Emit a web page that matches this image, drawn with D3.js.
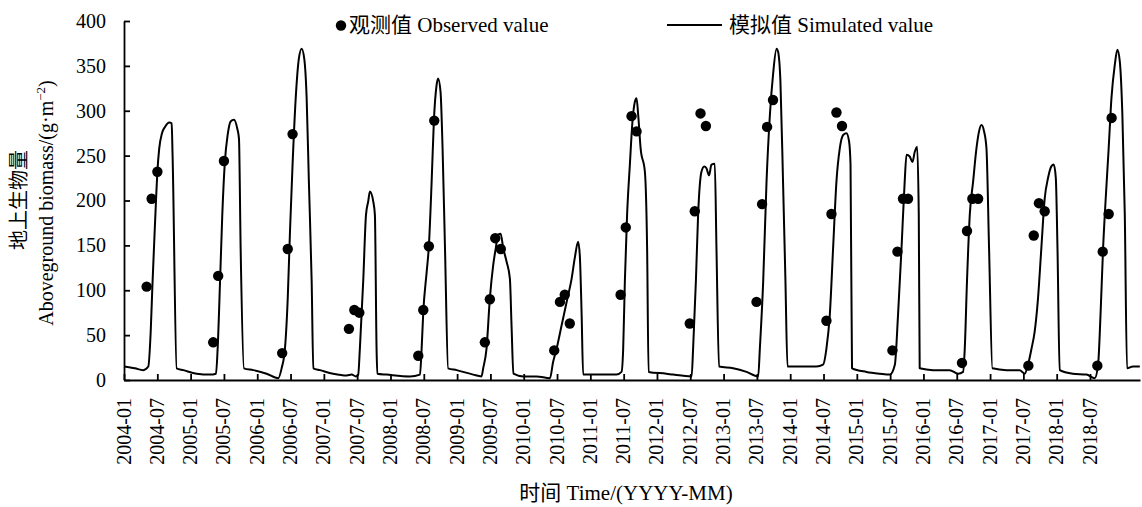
<!DOCTYPE html>
<html>
<head>
<meta charset="utf-8">
<script src="https://cdn.jsdelivr.net/npm/d3@7"></script>
<style>
  html, body { margin:0; padding:0; background:#fff; }
  svg { display:block; }
  text { font-family: "Liberation Serif", "Times New Roman", "Noto Sans CJK SC", serif; fill:#000; }
</style>
</head>
<body>
<svg id="chart" width="1142" height="507"></svg>
<script>
// ===== data =====
const simDates = [
  "2004-01-01","2004-02-29","2004-04-14","2004-05-11","2004-05-24","2004-06-02","2004-06-12","2004-06-22","2004-06-29","2004-07-09","2004-07-24","2004-08-09","2004-09-01","2004-09-14","2004-09-19","2004-10-11","2004-11-16",
  "2005-01-27","2005-04-09","2005-05-11","2005-05-20","2005-06-02","2005-06-14","2005-06-28","2005-07-13","2005-07-29","2005-08-16","2005-09-03","2005-09-12","2005-09-21","2005-10-09","2005-11-28",
  "2006-02-08","2006-04-12","2006-04-30","2006-05-18","2006-06-02","2006-06-14","2006-06-28","2006-07-15","2006-08-01","2006-08-16","2006-08-30","2006-09-12","2006-09-24","2006-10-09","2006-10-18","2006-11-23",
  "2007-02-02","2007-04-16","2007-05-13","2007-06-05","2007-06-17","2007-06-26","2007-07-14","2007-07-29","2007-08-10","2007-08-19","2007-09-06","2007-09-15","2007-09-24","2007-09-28","2007-11-17",
  "2008-03-22","2008-05-15","2008-05-24","2008-06-02","2008-06-20","2008-07-02","2008-07-17","2008-07-29","2008-08-13","2008-08-21","2008-09-03","2008-09-14","2008-09-27","2008-10-14","2008-11-29",
  "2009-02-26","2009-04-12","2009-04-21","2009-05-09","2009-05-27","2009-06-14","2009-06-28","2009-07-11","2009-07-24","2009-08-07","2009-08-25","2009-09-12","2009-09-21","2009-10-01","2009-11-23",
  "2010-02-03","2010-04-16","2010-05-03","2010-05-22","2010-06-18","2010-07-15","2010-08-11","2010-08-28","2010-09-15","2010-09-24","2010-10-04","2010-10-12",
  "2011-01-10","2011-04-10","2011-05-07","2011-05-16","2011-05-25","2011-06-06","2011-06-21","2011-07-05","2011-07-18","2011-07-27","2011-08-05","2011-08-18","2011-09-10","2011-09-22","2011-09-30",
  "2012-01-04","2012-02-09","2012-05-19","2012-05-27","2012-06-11","2012-06-23","2012-07-11","2012-07-26","2012-08-07","2012-08-21","2012-09-03","2012-09-21","2012-09-30","2012-10-14","2012-12-29",
  "2013-03-11","2013-05-13","2013-05-22","2013-06-09","2013-06-27","2013-07-15","2013-08-01","2013-08-20","2013-08-28","2013-09-10","2013-09-24","2013-10-07","2013-10-18","2013-12-23",
  "2014-03-23","2014-04-28","2014-05-16","2014-06-03","2014-06-21","2014-07-09","2014-07-27","2014-08-14","2014-09-01","2014-09-15","2014-09-23","2014-10-01","2014-12-18",
  "2015-02-28","2015-04-23","2015-05-20","2015-06-06","2015-06-25","2015-07-12","2015-07-22","2015-08-08","2015-08-23","2015-09-04","2015-09-17","2015-09-26","2015-10-01","2015-12-12",
  "2016-03-11","2016-04-25","2016-05-22","2016-05-31","2016-06-12","2016-06-27","2016-07-15","2016-08-02","2016-08-16","2016-08-29","2016-09-12","2016-09-25","2016-10-09","2016-10-27",
  "2017-01-11","2017-03-23","2017-04-19","2017-05-07","2017-05-26","2017-06-12","2017-06-30","2017-07-18","2017-08-05","2017-08-23","2017-09-10","2017-09-23","2017-10-04","2017-10-13","2017-10-25",
  "2018-01-04","2018-03-18","2018-05-02","2018-05-20","2018-06-02","2018-06-16","2018-06-30","2018-07-16","2018-07-31","2018-08-18","2018-09-01","2018-09-14","2018-09-28","2018-10-11","2018-10-23","2018-11-24","2018-12-31"
];
const simValues = [
  15,13,11,15,54,104,154,202,232,258,275,282,287,286,250,13,11,
  7,6,7,35,110,184,243,273,288,290,280,269,147,13,11,
  7,2,13,35,91,165,240,314,358,369,358,314,221,110,13,11,
  7,5,6,4,6,35,110,184,199,210,199,184,35,7,6,
  4,6,35,76,120,149,221,288,329,336,321,258,147,13,11,
  6,4,13,35,91,128,147,162,163,147,132,113,60,7,4,
  4,2,20,35,61,87,113,136,154,139,72,6,
  6,6,9,35,110,184,240,288,310,314,295,258,232,147,9,
  7,6,4,35,110,184,232,238,236,228,240,241,147,15,13,
  9,4,35,110,221,295,340,369,366,332,221,110,15,15,
  15,17,35,72,147,221,258,273,275,266,240,13,9,
  7,6,17,72,147,221,251,249,243,254,260,184,13,11,
  11,7,9,35,110,184,221,258,277,284,277,258,147,13,
  11,11,7,17,35,54,91,147,202,225,238,240,225,147,11,
  7,6,2,17,72,147,202,258,314,351,368,355,295,184,13,15,15
];

const obsDates = [
  "2004-05-02","2004-05-29","2004-06-29",
  "2005-04-26","2005-05-23","2005-06-23",
  "2006-05-03","2006-06-02","2006-06-28",
  "2007-04-28","2007-05-27","2007-06-23",
  "2008-05-06","2008-06-02","2008-07-02","2008-07-31",
  "2009-04-30","2009-05-27","2009-06-25","2009-07-25",
  "2010-05-09","2010-06-09","2010-07-05","2010-08-01",
  "2011-05-02","2011-05-30","2011-06-30","2011-07-27",
  "2012-05-09","2012-06-05","2012-07-06","2012-08-04",
  "2013-05-04","2013-06-03","2013-06-30","2013-08-01",
  "2014-05-16","2014-06-12","2014-07-09","2014-08-08",
  "2015-05-07","2015-06-03","2015-07-03","2015-07-30",
  "2016-05-16","2016-06-12","2016-07-11","2016-08-11",
  "2017-05-09","2017-06-07","2017-07-05","2017-08-05",
  "2018-05-16","2018-06-14","2018-07-16","2018-08-01"
];
const obsValues = [
  104,202,232,
  42,116,244,
  30,146,274,
  57,78,75,
  27,78,149,289,
  42,90,158,146,
  33,87,95,63,
  95,170,294,277,
  63,188,297,283,
  87,196,282,312,
  66,185,298,283,
  33,143,202,202,
  19,166,202,202,
  16,161,197,188,
  16,143,185,292
];

// category labels of the x axis (every 6 months)
const xLabels = [
  "2004-01","2004-07","2005-01","2005-07","2006-01","2006-07","2007-01","2007-07",
  "2008-01","2008-07","2009-01","2009-07","2010-01","2010-07","2011-01","2011-07",
  "2012-01","2012-07","2013-01","2013-07","2014-01","2014-07","2015-01","2015-07",
  "2016-01","2016-07","2017-01","2017-07","2018-01","2018-07"
];
const yTicks = [0,50,100,150,200,250,300,350,400];
const xStart = "2004-01-01", xEnd = "2019-01-01";

const legendObs = "观测值 Observed value";
const legendSim = "模拟值 Simulated value";
const xTitle = "时间 Time/(YYYY-MM)";
const yTitleCn = "地上生物量";

// ===== setup =====
const parse = d3.utcParse("%Y-%m-%d");
const svg = d3.select("#chart");

const x = d3.scaleUtc()
  .domain([parse(xStart), parse(xEnd)])
  .range([124, 1140]);
const xLab = d3.scalePoint()
  .domain(xLabels)
  .range([124, 1090]);
const y = d3.scaleLinear()
  .domain([0, 400])
  .range([380, 21]);

const sim = simDates.map((d,i) => ({date:parse(d), v:simValues[i]}));
const obs = obsDates.map((d,i) => ({date:parse(d), v:obsValues[i]}));

// ===== axes =====
const gy = svg.append("g")
  .attr("transform", `translate(${x.range()[0]},0)`)
  .call(d3.axisLeft(y).tickValues(yTicks).tickSizeInner(-6).tickSizeOuter(0).tickPadding(18));
gy.selectAll("text").attr("font-size", "20px").attr("fill", "#000")
  .style("font-family", '"Liberation Serif", serif');

// axis line over the full time range
svg.append("g")
  .attr("transform", `translate(0,${y(0)})`)
  .call(d3.axisBottom(x).tickValues([]).tickSizeOuter(0));

// labelled ticks
const gx = svg.append("g")
  .attr("transform", `translate(0,${y(0)})`)
  .call(d3.axisBottom(xLab).tickSizeInner(-6).tickSizeOuter(0));
gx.select(".domain").remove();
gx.selectAll("text")
  .attr("font-size", "20px").attr("fill", "#000")
  .style("font-family", '"Liberation Serif", serif')
  .attr("transform", "rotate(-90)")
  .attr("text-anchor", "end")
  .attr("x", -18).attr("y", 0).attr("dy", "0.3em");

svg.selectAll(".domain, .tick line").attr("stroke", "#000").attr("stroke-width", 1.8);

// ===== series =====
const line = d3.line()
  .x(d => x(d.date))
  .y(d => y(d.v))
  .curve(d3.curveMonotoneX);

svg.append("path")
  .datum(sim)
  .attr("fill", "none")
  .attr("stroke", "#000")
  .attr("stroke-width", 2)
  .attr("stroke-linejoin", "round")
  .attr("d", line);

svg.append("g").selectAll("circle")
  .data(obs)
  .join("circle")
  .attr("cx", d => x(d.date))
  .attr("cy", d => y(d.v))
  .attr("r", 5.2)
  .attr("fill", "#000");

// ===== legend =====
const lg = svg.append("g");
lg.append("circle").attr("cx", 341).attr("cy", 25.5).attr("r", 5.2).attr("fill", "#000");
lg.append("text").attr("x", 349).attr("y", 32).attr("font-size", "21px").text(legendObs);
lg.append("line").attr("x1", 667).attr("x2", 722).attr("y1", 25).attr("y2", 25)
  .attr("stroke", "#000").attr("stroke-width", 2);
lg.append("text").attr("x", 729).attr("y", 32).attr("font-size", "21px").text(legendSim);

// ===== titles =====
svg.append("text")
  .attr("x", 626).attr("y", 500)
  .attr("text-anchor", "middle")
  .attr("font-size", "21px")
  .text(xTitle);

svg.append("text")
  .attr("transform", "translate(26,200) rotate(-90)")
  .attr("text-anchor", "middle")
  .attr("font-size", "20px")
  .text(yTitleCn);

const yt = svg.append("text")
  .attr("transform", "translate(53,203) rotate(-90)")
  .attr("text-anchor", "middle")
  .attr("font-size", "20px");
yt.append("tspan").text("Aboveground biomass/(g·m");
yt.append("tspan").attr("font-size", "13px").attr("dy", -8).text("−2");
yt.append("tspan").attr("dy", 8).text(")");
</script>
</body>
</html>
